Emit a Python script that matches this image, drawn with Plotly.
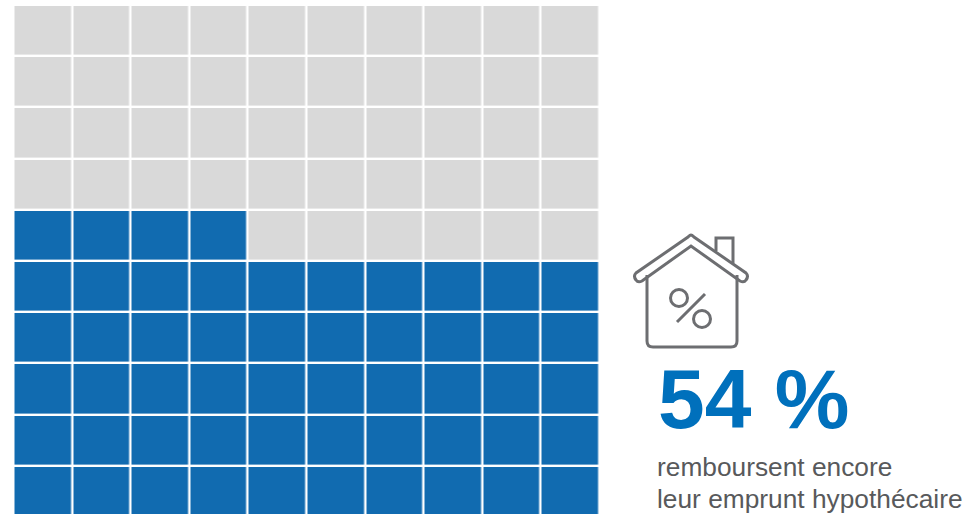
import re
import plotly.graph_objects as go

# --- data ---
columns = list(range(1, 11))
rows = list(range(1, 11))  # row 1 is the bottom row
paying = [
    [1, 1, 1, 1, 1, 1, 1, 1, 1, 1],
    [1, 1, 1, 1, 1, 1, 1, 1, 1, 1],
    [1, 1, 1, 1, 1, 1, 1, 1, 1, 1],
    [1, 1, 1, 1, 1, 1, 1, 1, 1, 1],
    [1, 1, 1, 1, 1, 1, 1, 1, 1, 1],
    [1, 1, 1, 1, 0, 0, 0, 0, 0, 0],
    [0, 0, 0, 0, 0, 0, 0, 0, 0, 0],
    [0, 0, 0, 0, 0, 0, 0, 0, 0, 0],
    [0, 0, 0, 0, 0, 0, 0, 0, 0, 0],
    [0, 0, 0, 0, 0, 0, 0, 0, 0, 0],
]
headline = "54 %"
caption_lines = ["remboursent encore", "leur emprunt hypothécaire"]

W, H = 968, 514
GREY, BLUE, ICON, TEXT = "#d9d9d9", "#116bb0", "#6d6e71", "#58595b"
HEAD = "#0070bc"
FONT = "Liberation Sans"


def px(x):
    return x / W


def py(y):
    return 1 - y / H


def path_to_paper(p):
    """Convert an SVG path given in pixels to paper coordinates."""
    out, is_x = [], True
    for tok in p.split():
        if re.fullmatch(r"[A-Z]", tok):
            out.append(tok)
        else:
            out.append(f"{px(float(tok)):.5f}" if is_x else f"{py(float(tok)):.5f}")
            is_x = not is_x
    return " ".join(out)


fig = go.Figure(
    go.Heatmap(
        x=columns, y=rows, z=paying,
        zmin=0, zmax=1,
        colorscale=[[0, GREY], [1, BLUE]],
        showscale=False, xgap=2.4, ygap=2.4, hoverinfo="skip",
    )
)

fig.update_layout(
    width=W, height=H,
    margin=dict(l=0, r=0, t=0, b=0),
    paper_bgcolor="white", plot_bgcolor="white",
    xaxis=dict(domain=[13.5 / W, 599.5 / W], visible=False, range=[0.5, 10.5], fixedrange=True),
    yaxis=dict(domain=[0, 1 - 5 / H], visible=False, range=[0.56, 10.5], fixedrange=True),
    showlegend=False,
)

# house pictogram
line = dict(color=ICON, width=3)
icon_paths = [
    # roof band
    "M 691 235 Q 692 235 694 237 L 746 273 Q 749 276 746 280 Q 744 283 740 281 "
    "L 691 246 L 642 281 Q 638 283 636 280 Q 633 276 636 273 L 688 237 Q 690 235 691 235 Z",
    # walls
    "M 647 275 L 647 341 Q 647 347 653 347 L 731 347 Q 737 347 737 341 L 737 275",
    # chimney
    "M 716 251 L 716 238 L 733 238 L 733 263",
    # slash
    "M 705 294 L 677 322",
]
shapes = [
    dict(type="path", path=path_to_paper(p), xref="paper", yref="paper", line=line, layer="above")
    for p in icon_paths
]
for cx, cy in [(679, 298), (702, 319)]:
    shapes.append(
        dict(type="circle", xref="paper", yref="paper",
             x0=px(cx - 8.5), x1=px(cx + 8.5),
             y0=py(cy + 8.5), y1=py(cy - 8.5), line=line, layer="above")
    )
fig.update_layout(shapes=shapes)

fig.add_annotation(
    text=f"<b>{headline}</b>", xref="paper", yref="paper", x=px(655.5), y=py(399),
    xanchor="left", yanchor="middle", showarrow=False,
    font=dict(family=FONT, size=84, color=HEAD),
)
for txt, y in zip(caption_lines, [467, 499]):
    fig.add_annotation(
        text=txt, xref="paper", yref="paper", x=px(654.5), y=py(y),
        xanchor="left", yanchor="middle", showarrow=False,
        font=dict(family=FONT, size=26.3, color=TEXT),
    )

fig.write_html(
    "out.html",
    config={"displayModeBar": False, "staticPlot": True},
    post_script="document.body.style.margin='0';document.documentElement.style.overflow='hidden';",
)
